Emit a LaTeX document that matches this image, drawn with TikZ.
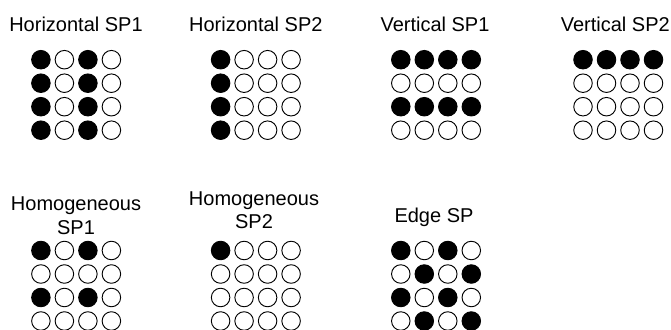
\documentclass[tikz,border=0pt]{standalone}
\usepackage{fontspec}
\setmainfont{Liberation Sans}
\begin{document}
\begin{tikzpicture}[x=0.75pt,y=-0.75pt,
  fulldot/.style={circle,draw=black,fill=black,line width=0.7pt,minimum size=13.9pt,inner sep=0pt},
  emptydot/.style={circle,draw=black,fill=white,line width=0.7pt,minimum size=13.9pt,inner sep=0pt},
  caption/.style={inner sep=0pt,anchor=base,font=\fontsize{15}{17.6}\selectfont}]
\useasboundingbox (0,0) rectangle (671,329);
\clip (0,0) rectangle (671,329);

% a 4x4 grid of dots: name, first column x, first row y, 16 entries (1 = filled)
\newcommand\dotgrid[4]{%
  \foreach \v [count=\i from 0] in {#4} {%
    \pgfmathtruncatemacro\r{int(\i/4)}%
    \pgfmathtruncatemacro\c{mod(\i,4)}%
    \ifnum\v=1 \def\dotstyle{fulldot}\else\def\dotstyle{emptydot}\fi
    \node[\dotstyle] (#1-\r-\c) at ({#2+23.5*\c},{#3+23.5*\r}) {};
  }}

% top row of patterns
\node[caption] (t1) at (76,31) {Horizontal SP1};
\dotgrid{hsp1}{40.9}{59.7}{1,0,1,0, 1,0,1,0, 1,0,1,0, 1,0,1,0}

\node[caption] (t2) at (255.8,31) {Horizontal SP2};
\dotgrid{hsp2}{220.6}{59.7}{1,0,0,0, 1,0,0,0, 1,0,0,0, 1,0,0,0}

\node[caption] (t3) at (435,31) {Vertical SP1};
\dotgrid{vsp1}{400.8}{59.7}{1,1,1,1, 0,0,0,0, 1,1,1,1, 0,0,0,0}

\node[caption,anchor=base east] (t4) at (670,31) {Vertical SP2};
\dotgrid{vsp2}{583}{59.7}{1,1,1,1, 0,0,0,0, 0,0,0,0, 0,0,0,0}

% bottom row of patterns
\node[caption] (t5) at (76,210.5) {Homogeneous};
\node[caption] (t5b) at (76,234) {SP1};
\dotgrid{homsp1}{40.9}{250.5}{1,0,1,0, 0,0,0,0, 1,0,1,0, 0,0,0,0}

\node[caption] (t6) at (254,205) {Homogeneous};
\node[caption] (t6b) at (254,228.8) {SP2};
\dotgrid{homsp2}{220.6}{250.5}{1,0,0,0, 0,0,0,0, 0,0,0,0, 0,0,0,0}

\node[caption] (t7) at (434,222) {Edge SP};
\dotgrid{edgesp}{400.8}{250.5}{1,0,1,0, 0,1,0,1, 1,0,1,0, 0,1,0,1}
\end{tikzpicture}
\end{document}
